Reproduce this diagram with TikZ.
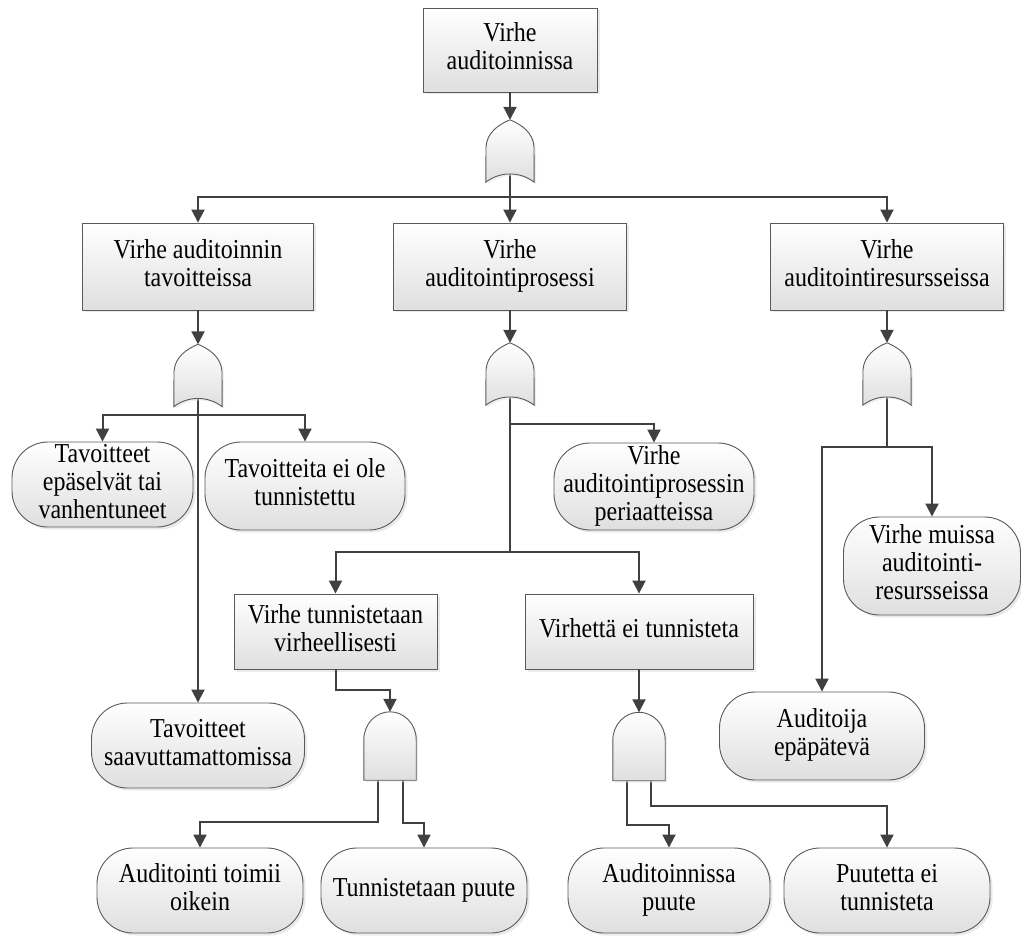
\documentclass[tikz,border=0pt]{standalone}
\usepackage{fontspec}
\setmainfont{Liberation Serif}
\usetikzlibrary{arrows.meta,calc,shadows}

\definecolor{wire}{HTML}{404040}
\definecolor{edge}{HTML}{5A5A5A}
\definecolor{shade}{HTML}{DFDFDF}

% node text: centred lines, set a little taller than the font's natural shape
\newcommand\lbl[1]{\scalebox{1}[1.14]{\begin{tabular}{@{}c@{}}#1\end{tabular}}}

\tikzset{
  base/.style={draw=edge, line width=0.9pt, top color=white, bottom color=shade,
    drop shadow={shadow xshift=2.5pt, shadow yshift=-2.5pt, fill=black!16},
    align=center, inner sep=0pt, font=\fontsize{24}{24.6}\selectfont},
  eventbox/.style={base, rectangle},
  leaf/.style={base, rectangle, rounded corners=36pt},
  gatebox/.style={rectangle, inner sep=0pt, draw=none},
  orbox/.style={gatebox, minimum width=48pt, minimum height=62pt},
  andbox/.style={gatebox, minimum width=52pt, minimum height=68pt},
  gatefill/.style={draw=edge, line width=0.9pt, top color=white, bottom color=shade,
    drop shadow={shadow xshift=2pt, shadow yshift=-2pt, fill=black!12}},
  conn/.style={draw=wire, line width=2pt},
  arr/.style={conn, -{Triangle[width=13pt,length=13pt]}},
}

% OR gate outline drawn from the anchors of its (invisible) node
\newcommand\orgatepath[1]{%
  \path[gatefill] (#1.north)
    .. controls ($(#1.north)+(12,5)$) and ($(#1.north)+(23,13)$) .. ($(#1.north)+(24,27)$)
    -- (#1.south east)
    .. controls ($(#1.south)+(10,-11)$) and ($(#1.south)+(-10,-11)$) .. (#1.south west)
    -- ($(#1.north)+(-24,27)$)
    .. controls ($(#1.north)+(-23,13)$) and ($(#1.north)+(-12,5)$) .. cycle;}

% AND gate outline: dome on top, flat bottom
\newcommand\andgatepath[1]{%
  \path[gatefill] (#1.south west) -- ($(#1.north west)+(0,28)$)
    .. controls ($(#1.north west)+(0,12)$) and ($(#1.north)+(-14,0)$) .. (#1.north)
    .. controls ($(#1.north)+(14,0)$) and ($(#1.north east)+(0,12)$) .. ($(#1.north east)+(0,28)$)
    -- (#1.south east) -- cycle;}

\begin{document}
\begin{tikzpicture}[x=1pt, y=-1pt]
\useasboundingbox (0,0) rectangle (1021,936);

% events
\node[eventbox, minimum width=174pt, minimum height=84pt] (top) at (510,50) {\lbl{Virhe\\auditoinnissa}};
\node[eventbox, minimum width=231pt, minimum height=87pt] (goal) at (198,266.5) {\lbl{Virhe auditoinnin\\tavoitteissa}};
\node[eventbox, minimum width=233pt, minimum height=87pt] (proc) at (510,266.5) {\lbl{Virhe\\auditointiprosessi}};
\node[eventbox, minimum width=233pt, minimum height=87pt] (res) at (887,266.5) {\lbl{Virhe\\auditointiresursseissa}};
\node[eventbox, minimum width=203pt, minimum height=75pt] (wrong) at (335.5,631.5) {\lbl{Virhe tunnistetaan\\virheellisesti}};
\node[eventbox, minimum width=228pt, minimum height=75pt] (miss) at (639,631.5) {\lbl{Virhettä ei tunnisteta}};

% basic events
\node[leaf, minimum width=181pt, minimum height=85pt] (unclear) at (102.5,484.5) {\lbl{Tavoitteet\\epäselvät tai\\vanhentuneet}};
\node[leaf, minimum width=200pt, minimum height=88pt] (noid) at (305,486) {\lbl{Tavoitteita ei ole\\tunnistettu}};
\node[leaf, minimum width=213pt, minimum height=85pt] (unreach) at (198,745.5) {\lbl{Tavoitteet\\saavuttamattomissa}};
\node[leaf, minimum width=200pt, minimum height=87pt] (princ) at (654,486.5) {\lbl{Virhe\\auditointiprosessin\\periaatteissa}};
\node[leaf, minimum width=177pt, minimum height=98pt] (other) at (932,566) {\lbl{Virhe muissa\\auditointi-\\resursseissa}};
\node[leaf, minimum width=205pt, minimum height=88pt] (incomp) at (822,736) {\lbl{Auditoija\\epäpätevä}};
\node[leaf, minimum width=206pt, minimum height=85pt] (ok) at (200,890.5) {\lbl{Auditointi toimii\\oikein}};
\node[leaf, minimum width=206pt, minimum height=85pt] (gap) at (424,890.5) {\lbl{Tunnistetaan puute}};
\node[leaf, minimum width=202pt, minimum height=85pt] (auditgap) at (669,890.5) {\lbl{Auditoinnissa\\puute}};
\node[leaf, minimum width=206pt, minimum height=85pt] (noticed) at (887,890.5) {\lbl{Puutetta ei\\tunnisteta}};

% gates (placeholders for their anchors)
\node[orbox] (g0) at (510,151) {};
\node[orbox] (g1) at (198,375.5) {};
\node[orbox] (g2) at (510,374) {};
\node[orbox] (g3) at (887,374) {};
\node[andbox] (a1) at (390,746) {};
\node[andbox] (a2) at (639,746.5) {};

% junction points
\coordinate (j0) at (510,197);
\coordinate (j1) at (198,415);
\coordinate (j2) at (510,424);
\coordinate (j3) at (510,552);
\coordinate (j4) at (887,447);

% connectors
\draw[arr] (top.south) -- (g0.north);
\draw[conn] (g0.center) -- (j0);
\draw[arr] (j0) -| (goal.north);
\draw[arr] (j0) -- (proc.north);
\draw[arr] (j0) -| (res.north);

\draw[arr] (goal.south) -- (g1.north);
\draw[arr] (g1.center) -- (unreach.north);
\draw[arr] (j1) -| (unclear.north);
\draw[arr] (j1) -| (noid.north);

\draw[arr] (proc.south) -- (g2.north);
\draw[conn] (g2.center) -- (j3);
\draw[arr] (j2) -| (princ.north);
\draw[arr] (j3) -| (wrong.north);
\draw[arr] (j3) -| (miss.north);

\draw[arr] (res.south) -- (g3.north);
\draw[conn] (g3.center) -- (j4);
\draw[arr] (j4) -| (incomp.north);
\draw[arr] (j4) -| (other.north);

\draw[arr] (wrong.south) -- ++(0,21) -| (a1.north);
\draw[arr] ($(a1.south)+(-12,0)$) -- ++(0,42) -| (ok.north);
\draw[arr] ($(a1.south)+(13,0)$) -- ++(0,43) -| (gap.north);

\draw[arr] (miss.south) -- (a2.north);
\draw[arr] ($(a2.south)+(-12,0)$) -- ++(0,44) -| (auditgap.north);
\draw[arr] ($(a2.south)+(12,0)$) -- ++(0,25) -| (noticed.north);

% gate symbols on top of the wires passing through them
\orgatepath{g0}
\orgatepath{g1}
\orgatepath{g2}
\orgatepath{g3}
\andgatepath{a1}
\andgatepath{a2}
\end{tikzpicture}
\end{document}
